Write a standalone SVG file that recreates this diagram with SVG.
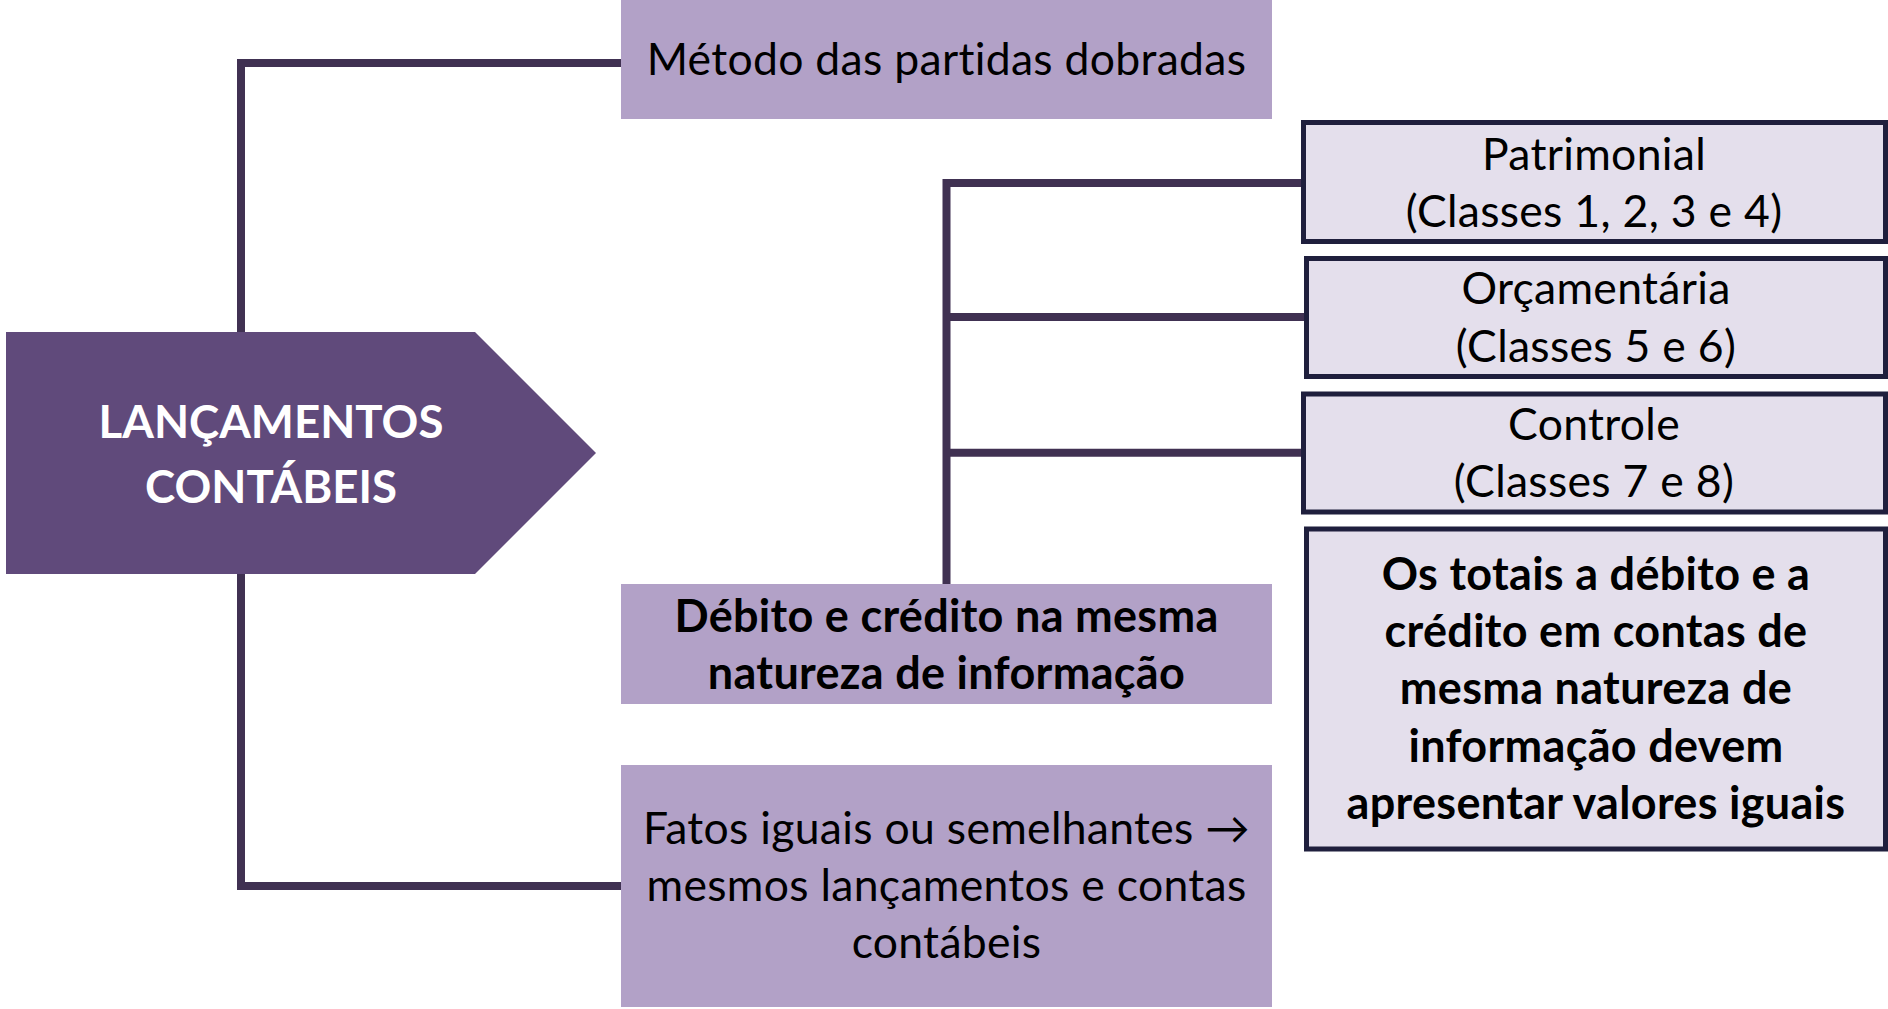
<svg xmlns="http://www.w3.org/2000/svg" width="1888" height="1009" viewBox="0 0 1888 1009">
<style>
.t{font-family:Lato,"Open Sans","Liberation Sans",sans-serif;font-size:44.5px;letter-spacing:0.3px;fill:#000;text-anchor:middle}
.b{font-weight:bold;font-size:45px}
.w{fill:#fff;font-size:45.6px;letter-spacing:0}
.conn{fill:none;stroke:#403152;stroke-width:8}
.mid{fill:#b2a1c7}
.lt{fill:#e4dfec;stroke:#1f1f3d;stroke-width:5}
</style>
<rect width="1888" height="1009" fill="#fff"/>
<g id="connectors">
<polyline class="conn" points="621,63 241,63 241,332"/>
<polyline class="conn" points="241,574 241,886 621,886"/>
<polyline class="conn" points="946.5,584 946.5,183 1303,183"/>
<line class="conn" x1="946.5" y1="317" x2="1305" y2="317"/>
<line class="conn" x1="946.5" y1="452.7" x2="1303" y2="452.7"/>
</g>
<g id="lancamentos">
<polygon points="6,332 475,332 596,453 475,574 6,574" fill="#604a7b"/>
<text class="t b w" x="271" y="438">LANÇAMENTOS</text>
<text class="t b w" x="271" y="503">CONTÁBEIS</text>
</g>
<g id="metodo">
<rect class="mid" x="621" y="0" width="651" height="119"/>
<text class="t" x="946.5" y="75">Método das partidas dobradas</text>
</g>
<g id="debito">
<rect class="mid" x="621" y="584" width="651" height="120"/>
<text class="t b" x="946.5" y="632">Débito e crédito na mesma</text>
<text class="t b" x="946.5" y="688.5">natureza de informação</text>
</g>
<g id="fatos">
<rect class="mid" x="621" y="765" width="651" height="242"/>
<text class="t" x="946.5" y="843.5">Fatos iguais ou semelhantes →</text>
<text class="t" x="946.5" y="900.5">mesmos lançamentos e contas</text>
<text class="t" x="946.5" y="958">contábeis</text>
</g>
<g id="patrimonial">
<rect class="lt" x="1303.5" y="122.5" width="582" height="119"/>
<text class="t" x="1594" y="170">Patrimonial</text>
<text class="t" x="1594" y="227">(Classes 1, 2, 3 e 4)</text>
</g>
<g id="orcamentaria">
<rect class="lt" x="1306.5" y="258.5" width="579" height="118"/>
<text class="t" x="1596" y="304">Orçamentária</text>
<text class="t" x="1596" y="361.5">(Classes 5 e 6)</text>
</g>
<g id="controle">
<rect class="lt" x="1303.5" y="394" width="582" height="118"/>
<text class="t" x="1594" y="440">Controle</text>
<text class="t" x="1594" y="497">(Classes 7 e 8)</text>
</g>
<g id="totais">
<rect class="lt" x="1306.5" y="529" width="579" height="320"/>
<text class="t b" x="1596" y="589.5">Os totais a débito e a</text>
<text class="t b" x="1596" y="647">crédito em contas de</text>
<text class="t b" x="1596" y="703.5">mesma natureza de</text>
<text class="t b" x="1596" y="761.5">informação devem</text>
<text class="t b" x="1596" y="818.5">apresentar valores iguais</text>
</g>
</svg>
